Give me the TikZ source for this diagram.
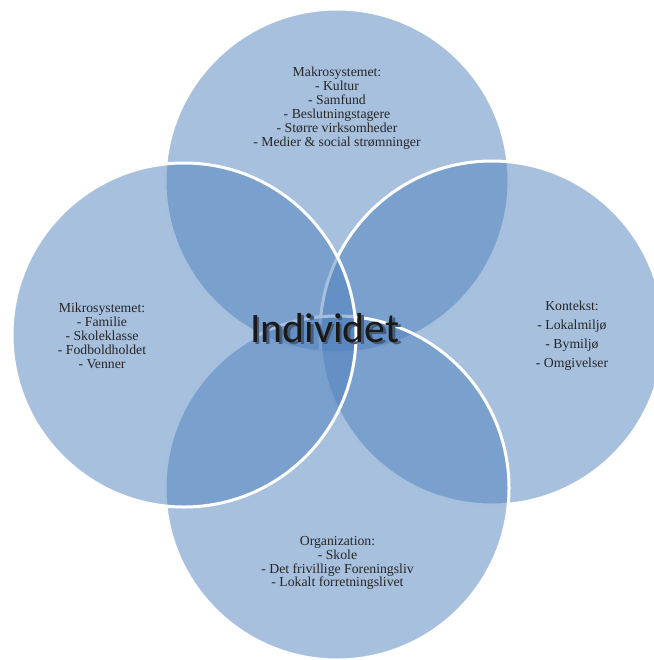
\documentclass[tikz,border=0pt]{standalone}
\usepackage{fontspec}
\setmainfont{Liberation Serif}
\newfontfamily\calib{Carlito}
\definecolor{accent}{RGB}{79,129,189}
\definecolor{txt}{RGB}{38,38,38}
\definecolor{shade}{RGB}{70,92,120}
\newcommand{\shadowtext}[1]{\makebox[0pt][l]{\hspace{2.5bp}\raisebox{-2.5bp}{\textcolor{shade}{#1}}}#1}
\tikzset{
  venn/.style={circle, minimum size=344bp, inner sep=0pt, outer sep=0pt,
    fill=accent, fill opacity=0.5, draw=white, draw opacity=1, line width=3bp},
  lbl/.style={align=center, text=txt, font=\fontsize{13.8}{14}\selectfont, inner sep=0pt},
}
\begin{document}
\begin{tikzpicture}[x=1bp, y=-1bp]
\useasboundingbox (0,0) rectangle (654,660);
\clip (0,0) rectangle (654,660);
\node[venn] (makro) at (337,181) {};
\node[venn] (kontekst) at (492,333) {};
\node[venn] (org) at (337,488) {};
\node[venn] (mikro) at (184,335) {};
\node[lbl] (tmakro) at (337,108) {Makrosystemet:\\- Kultur\\- Samfund\\- Beslutningstagere\\- Større virksomheder\\- Medier \& social strømninger};
\node[lbl] (tmikro) at (102,336) {Mikrosystemet:\\- Familie\\- Skoleklasse\\- Fodboldholdet\\- Venner};
\node[lbl, font=\fontsize{13.8}{19}\selectfont] (tkontekst) at (572,336) {Kontekst:\\- Lokalmiljø\\- Bymiljø\\- Omgivelser};
\node[lbl] (torg) at (337.5,563) {Organization:\\- Skole\\- Det frivillige Foreningsliv\\- Lokalt forretningslivet};
\node[anchor=base, inner sep=0pt, text=black!90, font=\calib\fontsize{42}{42}\selectfont] (individet) at (325,342) {\shadowtext{Individet}};
\end{tikzpicture}
\end{document}
